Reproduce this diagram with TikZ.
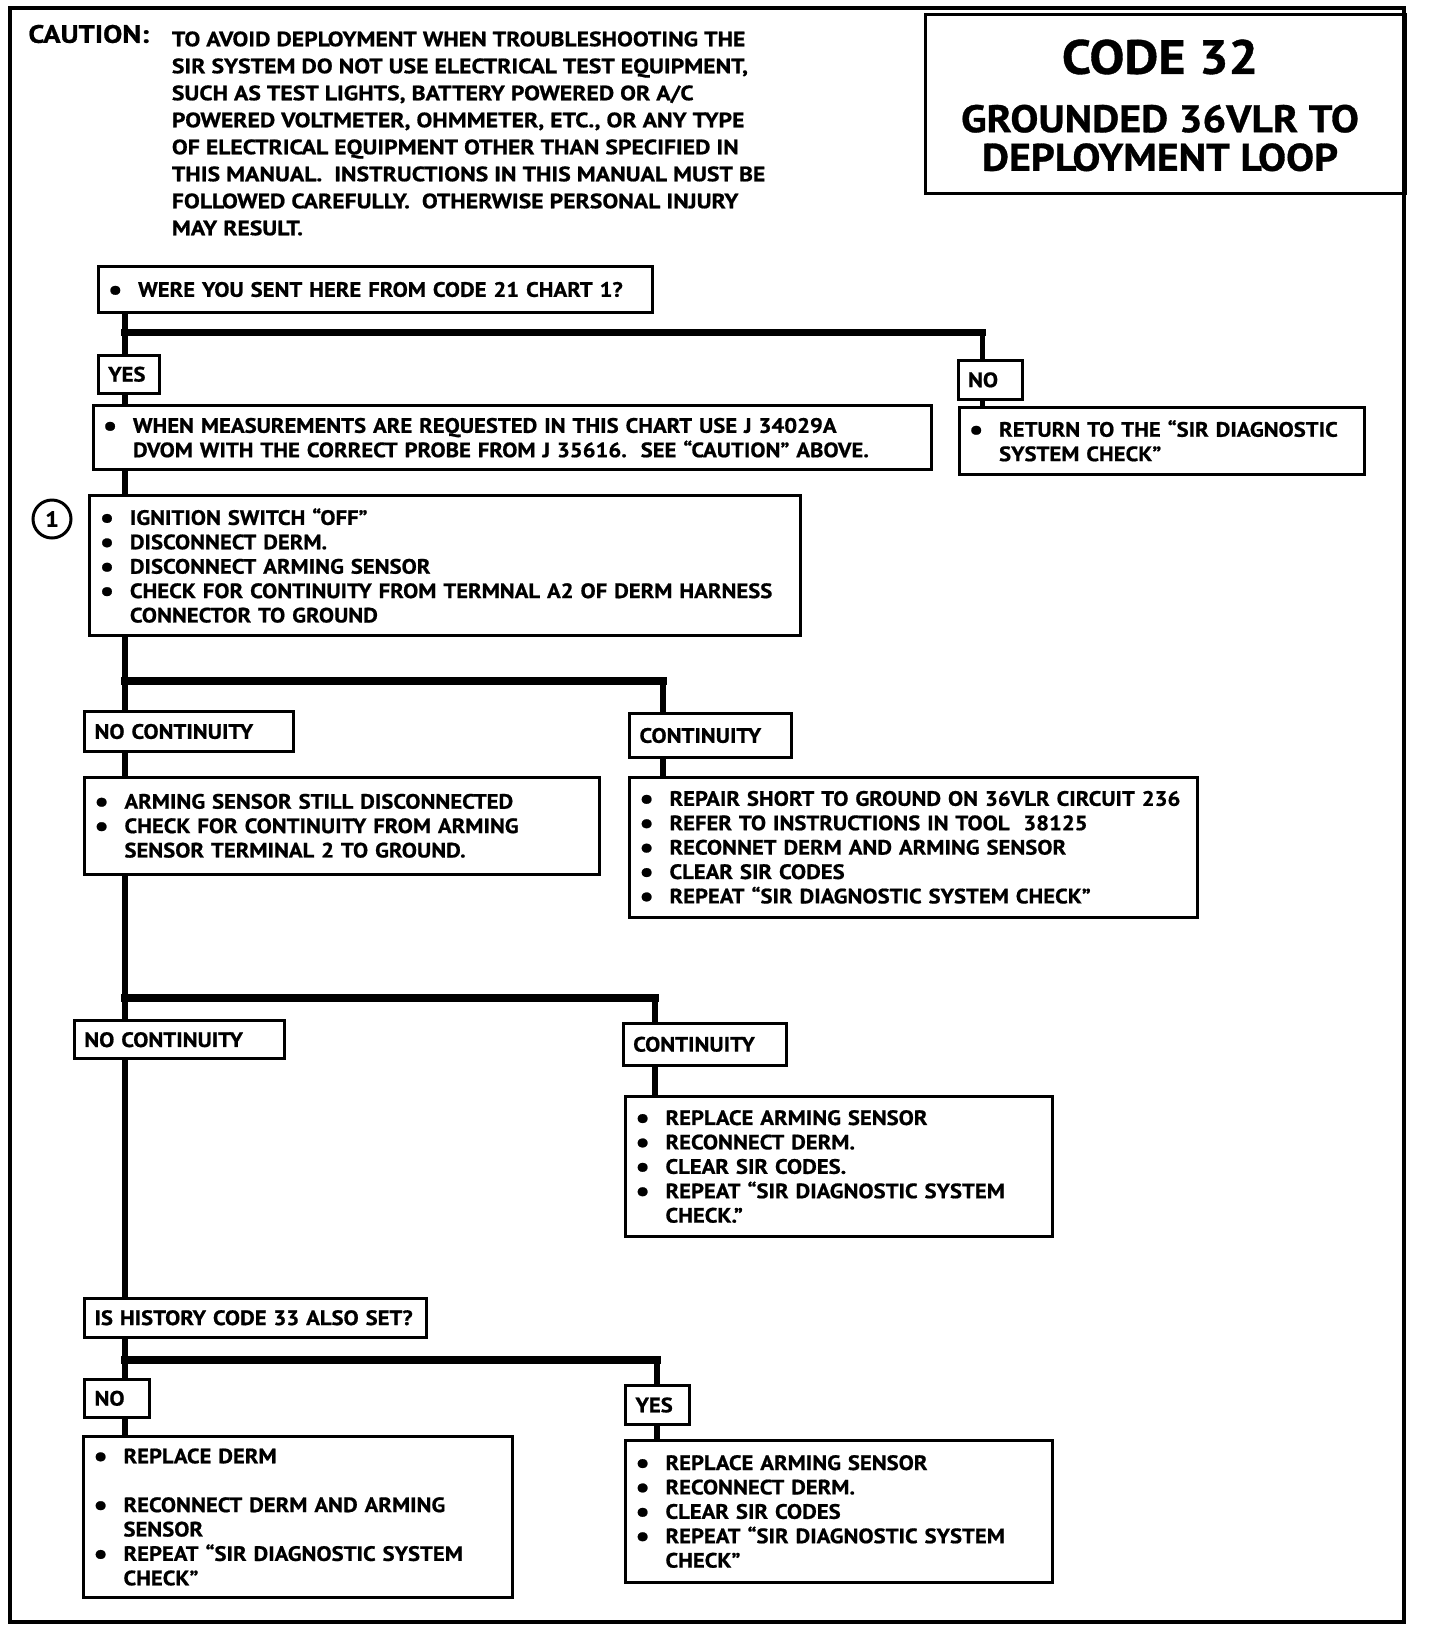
\documentclass[tikz,border=0pt]{standalone}
\usepackage{fontspec}
\setmainfont{PT Sans}[BoldFeatures={FakeStretch=1.09, FakeBold=0.8}]
\newfontfamily\cautfont{PT Sans}[BoldFeatures={FakeStretch=1.14, FakeBold=0.8}]
\usetikzlibrary{positioning}

\newcommand{\itm}{\makebox[15pt][l]{\smash{\fontsize{14.5}{12}\selectfont\raisebox{-1.3pt}{\textbullet}}}}
\newcommand{\contd}{\hspace*{15pt}}

\begin{document}
\begin{tikzpicture}[x=0.5pt, y=-0.5pt,
    box/.style={draw, line width=1.5pt, anchor=north west, inner ysep=0pt,
                align=left, font=\bfseries\fontsize{10.4}{12.2}\selectfont},
    lbl/.style={box, inner xsep=5pt},
    listbox/.style={box, inner xsep=5pt},
    wire/.style={line width=2.6pt},
    bar/.style={line width=3.6pt, line cap=rect}]
  \useasboundingbox (0,0) rectangle (1440,1630);
  % Moldura
  \draw[line width=2pt] (10,8) rectangle (1404,1622);
  % Aviso
  \node[font=\cautfont\bfseries\fontsize{12.6}{14}\selectfont, anchor=west, inner sep=0pt]
    (cauthead) at (28,34) {CAUTION:};
  \node[anchor=north west, inner sep=0pt, align=left,
        font=\cautfont\bfseries\fontsize{10.4}{13.5}\selectfont] (cautext) at (171.5,31)
    {TO AVOID DEPLOYMENT WHEN TROUBLESHOOTING THE\\
     SIR SYSTEM DO NOT USE ELECTRICAL TEST EQUIPMENT,\\
     SUCH AS TEST LIGHTS, BATTERY POWERED OR A/C\\
     POWERED VOLTMETER, OHMMETER, ETC., OR ANY TYPE\\
     OF ELECTRICAL EQUIPMENT OTHER THAN SPECIFIED IN\\
     THIS MANUAL.~~INSTRUCTIONS IN THIS MANUAL MUST BE\\
     FOLLOWED CAREFULLY.~~OTHERWISE PERSONAL INJURY\\
     MAY RESULT.};
  % Titulo
  \node[draw, line width=1.5pt, anchor=north west, inner sep=0pt,
        minimum width=240pt, minimum height=89.75pt] (title) at (924,12.5) {};
  \node[font=\bfseries\fontsize{24}{28}\selectfont] (codeno) at (1160,57) {CODE 32};
  \node[font=\bfseries\fontsize{19.2}{19.3}\selectfont, align=center] (codename)
    at (1160,138) {GROUNDED 36VLR TO\\DEPLOYMENT LOOP};
  % Caixas
  \node[listbox, text width=267.2pt, minimum height=23pt] (sentq) at (96.7,265)
    {\itm WERE YOU SENT HERE FROM CODE 21 CHART 1?};
  \node[lbl, text width=20.6pt, minimum height=19.25pt] (yes1) at (96.7,353.5) {YES};
  \node[lbl, text width=22.2pt, minimum height=19.65pt] (no1) at (956.5,358.7) {NO};
  \node[listbox, text width=409pt, minimum height=31.8pt] (measure) at (91.5,404.4)
    {\itm WHEN MEASUREMENTS ARE REQUESTED IN THIS CHART USE J 34029A\\
     \contd DVOM WITH THE CORRECT PROBE FROM J 35616.~~SEE ``CAUTION'' ABOVE.};
  \node[listbox, text width=192.7pt, minimum height=33.75pt] (ret) at (957.6,405.5)
    {\itm RETURN TO THE ``SIR DIAGNOSTIC\\
     \contd SYSTEM CHECK''};
  \node[circle, draw, line width=1.5pt, minimum size=19pt, inner sep=0pt,
        font=\bfseries\fontsize{11}{12}\selectfont] (mark1) at (52,519) {1};
  \node[listbox, text width=345.5pt, minimum height=70pt] (step1) at (88.4,494)
    {\itm IGNITION SWITCH ``OFF''\\
     \itm DISCONNECT DERM.\\
     \itm DISCONNECT ARMING SENSOR\\
     \itm CHECK FOR CONTINUITY FROM TERMNAL A2 OF DERM HARNESS\\
     \contd CONNECTOR TO GROUND};
  \node[lbl, text width=94.5pt, minimum height=20pt] (nocont1) at (83,710) {NO CONTINUITY};
  \node[lbl, text width=71pt, minimum height=22pt] (cont1) at (628,712) {CONTINUITY};
  \node[listbox, text width=247.5pt, minimum height=48.7pt] (armchk) at (83,775.6)
    {\itm ARMING SENSOR STILL DISCONNECTED\\
     \itm CHECK FOR CONTINUITY FROM ARMING\\
     \contd SENSOR TERMINAL 2 TO GROUND.};
  \node[listbox, text width=273.8pt, minimum height=70.2pt] (repair) at (628,775.6)
    {\itm REPAIR SHORT TO GROUND ON 36VLR CIRCUIT 236\\
     \itm REFER TO INSTRUCTIONS IN TOOL~~38125\\
     \itm RECONNET DERM AND ARMING SENSOR\\
     \itm CLEAR SIR CODES\\
     \itm REPEAT ``SIR DIAGNOSTIC SYSTEM CHECK''};
  \node[lbl, text width=95pt, minimum height=19.2pt] (nocont2) at (72.8,1019) {NO CONTINUITY};
  \node[lbl, text width=71.6pt, minimum height=20.8pt] (cont2) at (621.7,1022) {CONTINUITY};
  \node[listbox, text width=203.5pt, minimum height=70pt] (replarm) at (624,1095)
    {\itm REPLACE ARMING SENSOR\\
     \itm RECONNECT DERM.\\
     \itm CLEAR SIR CODES.\\
     \itm REPEAT ``SIR DIAGNOSTIC SYSTEM\\
     \contd CHECK.''};
  \node[lbl, text width=161pt, minimum height=19.75pt] (histq) at (83,1296.5)
    {IS HISTORY CODE 33 ALSO SET?};
  \node[lbl, text width=22.3pt, minimum height=19.2pt] (no2) at (83,1377.6) {NO};
  \node[lbl, text width=22pt, minimum height=19.5pt] (yes2) at (624,1384) {YES};
  \node[listbox, text width=204.25pt, minimum height=80.5pt] (repderm) at (82,1435)
    {\itm REPLACE DERM\\[12.2pt]
     \itm RECONNECT DERM AND ARMING\\
     \contd SENSOR\\
     \itm REPEAT ``SIR DIAGNOSTIC SYSTEM\\
     \contd CHECK''};
  \node[listbox, text width=203.5pt, minimum height=71pt] (yesact) at (624,1439)
    {\itm REPLACE ARMING SENSOR\\
     \itm RECONNECT DERM.\\
     \itm CLEAR SIR CODES\\
     \itm REPEAT ``SIR DIAGNOSTIC SYSTEM\\
     \contd CHECK''};
  % Linha principal
  \coordinate (tk) at (125,0);
  \foreach \a/\b in {sentq/yes1, yes1/measure, measure/step1, step1/nocont1,
                     nocont1/armchk, armchk/nocont2, nocont2/histq, histq/no2, no2/repderm}
    \draw[wire] (\a.south -| tk) -- (\b.north -| tk);
  % Ramos
  \coordinate (jA) at (125,332.7);  \coordinate (kA) at (982.5,332.7);
  \coordinate (jB) at (125,681);    \coordinate (kB) at (663,681);
  \coordinate (jC) at (125,998);    \coordinate (kC) at (655,998);
  \coordinate (jD) at (125,1360);   \coordinate (kD) at (657,1360);
  \foreach \j/\k/\l/\m in {jA/kA/no1/ret, jB/kB/cont1/repair,
                           jC/kC/cont2/replarm, jD/kD/yes2/yesact} {
    \draw[bar] (\j) -- (\k);
    \draw[wire] (\k) -- (\l.north -| \k);
    \draw[wire] (\l.south -| \k) -- (\m.north -| \k);
  }
\end{tikzpicture}
\end{document}
